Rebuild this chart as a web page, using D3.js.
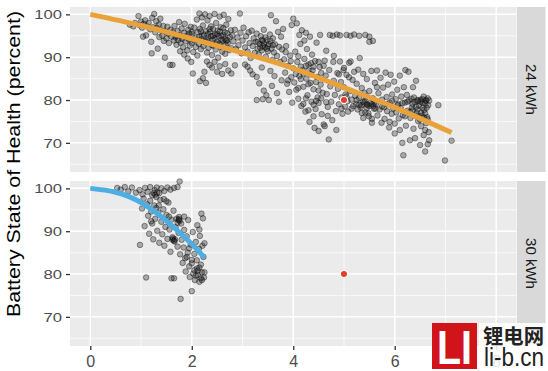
<!DOCTYPE html>
<html>
<head>
<meta charset="utf-8">
<script src="https://cdn.jsdelivr.net/npm/d3@7/dist/d3.min.js"></script>
<style>
body { margin: 0; background: #fff; }
svg { display: block; font-family: "Liberation Sans", Arial, sans-serif; }
</style>
</head>
<body>
<div id="chart"></div>
<script>
'use strict';

// facets, ticks
var facets = ['24 kWh', '30 kWh'];
var xTicks = [0, 2, 4, 6, 8];
var xMinor = [1, 3, 5, 7];
var yTicks = [70, 80, 90, 100];
var yMinor = [65, 75, 85, 95];
var yTitle = 'Battery State of Health (percent)';

// highlighted car (age in years, SoH)
var marker = [5, 80];

// fitted curves
var fit24Age = [0, 1, 2, 3, 4, 5, 6, 7.12];
var fit24Soh = [100, 97.4, 94.3, 91.0, 87.4, 82.9, 78.3, 72.4];
var fit30Age = [0, 0.5, 1, 1.5, 2, 2.25];
var fit30Soh = [100, 99.1, 96.7, 92.4, 87.0, 83.8];

var points24 = [
 [0.78,97.6],[0.85,97.2],[0.88,98.0],[0.95,99.6],[0.97,97.5],[1.0,98.3],[1.02,96.9],[1.05,97.8],[1.08,98.6],[1.1,95.1],
 [1.12,97.2],[1.15,98.0],[1.18,96.5],[1.2,93.6],[1.22,99.2],[1.24,97.0],[1.26,100.1],[1.28,95.8],[1.3,98.4],[1.31,96.9],
 [1.33,92.0],[1.35,97.6],[1.36,94.7],[1.38,99.0],[1.4,96.2],[1.42,95.0],[1.44,97.3],[1.45,93.8],[1.47,89.9],[1.48,96.0],
 [1.5,94.4],[1.52,97.1],[1.54,95.5],[1.55,93.3],[1.57,88.2],[1.58,96.4],[1.6,94.8],[1.62,88.2],[1.21,90.9],[1.04,94.8],
 [1.63,95.9],[1.65,93.9],[1.66,97.3],[1.68,94.6],[1.7,92.9],[1.72,96.1],[1.73,94.0],[1.75,98.2],[1.76,95.2],[1.78,93.4],
 [1.8,96.7],[1.81,94.3],[1.83,92.3],[1.85,95.7],[1.86,97.8],[1.88,93.7],[1.9,95.0],[1.91,91.6],[1.93,96.4],[1.95,94.1],
 [1.96,92.7],[1.98,97.1],[2.0,93.3],[2.01,95.4],[2.03,91.2],[2.05,96.9],[2.06,94.5],[2.08,92.4],[2.1,98.8],[2.11,90.4],
 [2.12,95.8],[2.14,93.1],[2.15,100.2],[2.16,96.6],[2.18,91.9],[2.19,94.2],[2.2,99.3],[1.92,89.7],[1.99,88.9],[2.02,86.2],
 [2.16,84.4],[2.22,85.1],[2.28,84.0],[2.25,86.6],[1.85,90.6],[1.77,91.4],
 [2.22,97.4],[2.23,92.6],[2.24,95.3],[2.26,100.0],[2.27,93.8],[2.28,96.1],[2.3,91.1],[2.31,98.6],[2.32,94.6],[2.33,92.2],
 [2.35,99.6],[2.36,95.9],[2.37,93.2],[2.38,97.2],[2.4,90.5],[2.41,94.1],[2.42,96.6],[2.43,92.7],[2.45,100.1],[2.46,95.3],
 [2.47,91.8],[2.48,98.0],[2.5,93.6],[2.51,96.2],[2.52,89.9],[2.53,94.9],[2.55,99.5],[2.56,92.4],[2.57,97.0],[2.58,95.0],
 [2.6,91.3],[2.61,93.8],[2.62,96.8],[2.63,99.9],[2.65,94.3],[2.66,90.8],[2.67,92.9],[2.68,97.6],[2.7,95.6],[2.71,93.3],
 [2.72,98.9],[2.74,91.7],[2.75,94.7],[2.77,96.3],[2.78,92.1],[2.8,95.1],[2.4,87.6],[2.45,88.9],[2.5,86.6],[2.55,87.9],
 [2.6,86.1],[2.66,88.4],[2.72,86.9],[2.78,86.2],[2.85,88.1],[2.3,89.0],[2.35,88.2],
 [1.9,94.6],[2.0,95.9],[2.1,94.0],[2.2,95.0],[2.3,94.0],[2.35,96.6],[2.45,94.4],[2.55,93.2],[2.62,95.2],[2.7,94.0],
 [2.5,95.4],[2.4,92.8],
 [1.7,95.0],[1.8,94.9],[1.95,95.5],[2.05,93.9],[2.15,94.8],[2.25,93.5],[2.32,95.4],[2.42,95.0],[2.48,93.0],[2.58,94.0],
 [2.65,95.8],[2.68,93.9],[2.55,96.0],[2.38,94.9],[2.18,96.0],
 [2.82,93.7],[2.85,96.4],[2.87,91.9],[2.9,94.6],[2.92,92.8],[2.95,100.2],[2.96,95.7],[2.98,90.9],[3.0,93.9],[3.02,96.9],
 [3.05,92.3],[3.07,94.9],[3.1,91.3],[3.12,95.8],[3.14,93.3],[3.16,89.8],[3.18,96.2],[3.2,92.6],[3.22,94.4],[3.24,91.0],
 [3.26,93.6],[3.28,95.5],[3.3,92.0],[3.32,90.6],[3.34,93.1],[3.36,94.9],[3.38,91.6],[3.4,93.8],[3.42,96.4],[3.44,92.3],
 [3.46,90.1],[3.48,94.0],[3.5,91.4],[3.52,93.1],[3.54,95.3],[3.56,99.8],[3.57,92.0],[3.59,89.4],[3.6,94.4],[3.62,91.1],
 [3.64,93.0],[3.66,98.4],[3.68,90.3],[3.7,95.9],[3.72,92.4],[3.74,88.9],[3.76,94.8],[3.78,91.8],[3.8,96.6],
 [3.3,93.6],[3.4,92.6],[3.45,94.6],[3.5,92.6],[3.6,92.8],[3.35,92.2],[3.42,93.2],[3.55,93.8],[3.48,92.0],[3.38,94.0],
 [3.05,88.3],[3.15,86.9],[3.2,86.0],[3.28,85.4],[3.33,83.9],[3.38,87.6],[3.42,82.2],[3.47,81.1],[3.52,80.0],[3.4,80.2],
 [3.28,80.0],[3.58,83.3],[3.63,85.6],[3.68,81.6],[3.72,79.6],[3.77,84.6],[3.1,87.8],[3.55,86.8],
 [3.82,89.5],[3.84,86.4],[3.86,92.6],[3.88,83.8],[3.9,88.0],[3.92,81.9],[3.94,90.4],[3.96,85.3],[3.97,97.5],[3.98,79.4],
 [4.0,99.0],[4.0,87.4],[4.02,84.1],[4.04,91.3],[4.06,82.4],[4.07,97.9],[4.08,88.9],[4.1,80.3],[4.12,85.6],[4.14,93.1],
 [4.16,78.6],[4.17,96.3],[4.18,87.0],[4.2,83.1],[4.22,89.6],[4.24,77.3],[4.25,95.7],[4.26,85.0],[4.28,81.1],[4.3,88.3],
 [4.32,74.9],[4.33,94.8],[4.34,84.0],[4.36,79.6],[4.38,86.9],[4.4,82.5],[4.42,73.5],[4.43,89.1],[4.44,77.9],[4.46,93.4],
 [4.47,85.4],[4.48,80.6],[4.5,72.8],[4.52,87.7],[4.53,95.2],[4.54,83.6],[4.56,76.7],[4.58,81.7],[4.6,74.3],
 [3.85,91.2],[3.9,84.6],[3.95,89.1],[4.05,86.1],[4.1,90.2],[4.15,84.9],[4.2,86.2],[4.25,80.4],[4.3,83.7],[4.35,88.6],
 [4.4,78.9],[4.45,84.2],[4.5,79.3],[4.55,86.3],[4.1,82.8],[4.2,79.1],[4.3,77.6],[4.4,76.2],[4.5,82.2],[4.27,91.9],
 [4.37,90.6],[4.12,95.2],[4.22,93.9],
 [4.3,86.9],[4.4,87.8],[4.5,88.9],[4.6,88.0],[4.45,79.8],[4.55,80.4],[4.65,79.5],[4.15,87.8],[4.25,88.0],[4.35,86.0],
 [4.72,95.2],[4.78,95.0],[4.86,95.3],[4.92,95.1],[5.05,95.2],[5.13,95.0],[5.2,95.3],[5.3,95.0],[5.42,95.2],[5.5,94.8],
 [5.57,93.8],[5.5,93.6],
 [4.62,89.2],[4.64,85.7],[4.66,81.4],[4.68,78.4],[4.7,70.8],[4.71,87.0],[4.73,83.2],[4.75,79.6],[4.77,75.3],[4.79,88.9],
 [4.8,84.5],[4.82,81.2],[4.84,77.4],[4.85,73.0],[4.87,86.3],[4.88,82.6],[4.9,79.0],[4.92,89.0],[4.94,84.2],[4.95,80.6],
 [4.97,76.8],[4.99,87.0],[5.0,83.0],[5.02,78.5],[5.03,81.3],[5.05,85.9],[5.07,79.7],[5.08,77.3],[5.1,88.7],[5.12,82.1],
 [5.13,89.0],[5.15,80.1],[5.17,84.7],[5.18,78.6],[5.2,86.6],[5.22,81.0],[5.24,79.1],[5.25,83.8],[5.27,77.8],[5.28,87.1],
 [5.3,80.5],[5.31,89.8],[5.33,78.3],[5.35,82.8],[5.37,79.6],[5.38,86.1],[5.4,81.7],[5.42,77.1],[5.44,80.8],[5.45,84.9],
 [5.47,78.8],[5.49,76.2],[5.5,82.1],[5.52,79.3],[5.54,86.8],[5.55,75.6],[5.57,80.4],[5.59,78.0],
 [4.65,91.5],[4.8,90.3],[4.9,86.0],[5.0,87.5],[5.1,85.3],[4.95,78.0],[5.05,80.8],[5.15,78.0],[5.25,80.0],[5.35,77.0],
 [5.45,79.0],[5.55,74.7],[5.48,76.9],[5.38,75.8],[4.62,73.9],[4.68,76.3],
 [5.35,78.8],[5.4,79.5],[5.5,78.6],[5.6,79.4],[5.62,78.0],[5.3,78.9],[5.45,78.2],[5.55,79.0],[5.42,79.9],[5.58,78.6],
 [5.61,84.0],[5.63,79.1],[5.65,86.9],[5.66,76.4],[5.68,81.6],[5.7,77.8],[5.72,85.2],[5.74,74.7],[5.75,80.1],[5.77,82.9],
 [5.79,78.3],[5.8,75.6],[5.82,86.4],[5.84,80.7],[5.85,77.4],[5.87,83.6],[5.89,73.6],[5.9,79.4],[5.92,85.9],[5.94,76.8],
 [5.95,81.3],[5.97,78.0],[5.99,84.3],[6.0,74.5],[6.02,80.2],[6.03,77.1],[6.05,82.4],[6.07,79.0],[6.08,75.7],[6.1,85.7],
 [6.12,78.1],[6.13,80.8],[6.15,70.0],[6.16,76.5],[6.17,67.1],[6.18,83.0],[6.2,79.4],[6.21,87.0],[6.22,74.0],[6.24,81.2],
 [6.25,77.5],[6.27,86.6],[6.28,79.9],[6.3,70.6],[6.31,75.8],[6.33,80.3],[6.34,78.3],[6.36,83.0],[6.37,73.3],[6.39,79.6],
 [6.4,71.1],[6.42,84.5],[6.43,77.0],[6.45,80.0],[6.46,75.1],[6.48,78.7],[6.5,69.5],[6.51,80.1],[6.52,73.9],[6.54,76.4],
 [6.55,79.4],[6.57,71.8],[6.58,77.7],[6.6,68.0],[6.61,79.8],[6.62,74.6],[6.64,76.0],[6.65,69.7],[6.66,78.8],[6.67,72.5],
 [6.68,70.6],[6.86,78.8],[6.99,65.9],[7.12,70.5],
 [5.65,83.0],[5.75,78.5],[5.85,79.0],[5.95,79.8],[6.05,78.8],[6.15,79.3],[6.25,79.6],[6.35,79.1],[6.45,79.8],[6.55,78.2],
 [6.62,80.0],[6.2,76.2],[6.3,77.2],[6.4,76.4],[6.5,75.4],[6.6,73.0],[6.1,73.0],[6.0,72.2],[5.9,74.9],
 [6.5,79.6],[6.55,80.2],[6.6,79.2],[6.65,80.4],[6.68,79.9],[6.45,77.8],[6.6,76.9],[6.65,75.5],
 [6.35,77.6],[6.42,78.4],[6.52,77.0],[6.58,75.8],[6.63,78.2],[6.48,76.2],[6.38,80.6],[6.57,80.8]
];

var points30 = [
 [0.53,100.1],[0.6,99.7],[0.68,100.3],[0.75,99.3],[0.82,100.2],[0.9,99.0],[0.97,99.6],[1.03,98.6],[1.08,100.1],[1.13,99.2],
 [1.18,100.3],[1.22,98.4],[1.27,99.6],[1.31,100.2],[1.36,98.9],[1.4,100.0],[1.46,99.4],[1.52,100.2],[1.58,99.7],[1.65,100.1],
 [1.72,100.3],[1.76,101.6],
 [0.98,86.8],[1.02,95.3],[1.05,97.6],[1.07,91.2],[1.1,79.2],[1.12,96.3],[1.14,93.6],[1.16,89.4],[1.18,97.1],[1.2,94.6],
 [1.22,91.8],[1.24,88.1],[1.26,96.0],[1.28,92.9],[1.3,98.0],[1.32,90.1],[1.34,94.4],[1.36,87.3],[1.38,97.3],[1.4,92.2],
 [1.42,89.3],[1.44,95.1],[1.46,86.6],[1.48,91.0],[1.5,93.8],[1.52,88.2],[1.54,96.7],[1.56,90.4],[1.58,85.2],[1.6,92.7],
 [1.6,79.0],[1.62,88.0],[1.64,94.8],[1.65,79.0],[1.66,87.6],[1.68,90.9],[1.7,92.9],[1.72,86.4],[1.74,89.6],[1.75,93.3],
 [1.77,84.6],[1.78,74.2],[1.79,91.8],[1.8,88.0],[1.82,82.6],[1.84,86.2],[1.85,90.3],[1.87,83.7],[1.88,80.6],[1.9,88.8],
 [1.92,85.0],[1.93,92.6],[1.95,81.8],[1.96,79.3],[1.98,86.9],[2.0,76.0],[2.0,83.3],[2.02,89.8],[2.03,80.1],[2.05,84.7],
 [2.06,78.6],[2.08,87.5],[2.1,81.3],[2.11,91.4],[2.12,79.8],[2.14,85.9],[2.15,78.2],[2.16,88.9],[2.18,82.2],[2.19,94.1],
 [2.2,80.4],[2.21,86.6],[2.22,93.0],[2.23,84.0],[2.24,79.2],[2.25,87.2],[2.25,80.4],
 [1.63,88.3],[1.67,88.1],[1.65,87.8],[1.74,92.6],[1.76,92.4],[1.75,92.8],[1.45,97.5],[1.5,97.0],[1.35,96.0],[1.25,98.9],
 [1.9,84.0],[2.0,82.5],[2.1,83.2],[1.95,86.0],[2.05,80.9],[2.15,81.5],[1.55,93.4],[1.85,93.4],[2.15,90.4],[1.2,92.3],
 [1.3,95.4],[1.28,98.5],[1.32,99.0],[2.08,79.6],[2.18,79.0],[2.12,80.8],[2.2,78.6],[1.62,88.6],[1.72,92.0]
];

var W = 548, H = 371;
var panelTop = [7, 181];
var panelH = 165;
var left = 70, right = 516.5;

var x = d3.scaleLinear().domain([-0.4, 8.4]).range([left, right]);

var svg = d3.select('#chart').append('svg')
	.attr('width', W)
	.attr('height', H);

var facetData = [
	{label: facets[0], pts: points24, fitX: fit24Age, fitY: fit24Soh, color: '#E9A23A'},
	{label: facets[1], pts: points30, fitX: fit30Age, fitY: fit30Soh, color: '#4DAEE3'}
];

facetData.forEach(function(f, i) {
	var top = panelTop[i];
	var y = d3.scaleLinear().domain([63.2, 101.72]).range([top + panelH, top]);
	var g = svg.append('g');

	// panel background
	g.append('rect')
		.attr('x', left).attr('y', top)
		.attr('width', right - left).attr('height', panelH)
		.attr('fill', '#EBEBEB');

	// minor grid
	g.selectAll('.ymin').data(yMinor).enter().append('line')
		.attr('x1', left).attr('x2', right)
		.attr('y1', y).attr('y2', y)
		.attr('stroke', '#fff').attr('stroke-width', 0.7);
	g.selectAll('.xmin').data(xMinor).enter().append('line')
		.attr('x1', x).attr('x2', x)
		.attr('y1', top).attr('y2', top + panelH)
		.attr('stroke', '#fff').attr('stroke-width', 0.7);
	// major grid
	g.selectAll('.ymaj').data(yTicks).enter().append('line')
		.attr('x1', left).attr('x2', right)
		.attr('y1', y).attr('y2', y)
		.attr('stroke', '#fff').attr('stroke-width', 1.5);
	g.selectAll('.xmaj').data(xTicks).enter().append('line')
		.attr('x1', x).attr('x2', x)
		.attr('y1', top).attr('y2', top + panelH)
		.attr('stroke', '#fff').attr('stroke-width', 1.5);

	// observations
	g.append('g').selectAll('circle').data(f.pts).enter().append('circle')
		.attr('cx', function(d) { return x(d[0]); })
		.attr('cy', function(d) { return y(d[1]); })
		.attr('r', 2.8)
		.attr('fill', '#222').attr('fill-opacity', 0.34)
		.attr('stroke', '#000').attr('stroke-opacity', 0.48)
		.attr('stroke-width', 0.8);

	// fitted curve
	var line = d3.line()
		.x(function(d, j) { return x(f.fitX[j]); })
		.y(function(d) { return y(d); })
		.curve(d3.curveNatural);
	g.append('path')
		.attr('d', line(f.fitY))
		.attr('fill', 'none')
		.attr('stroke', f.color)
		.attr('stroke-width', 5)
		.attr('stroke-linecap', 'butt');

	// highlighted car
	g.append('circle')
		.attr('cx', x(marker[0])).attr('cy', y(marker[1]))
		.attr('r', 3.6)
		.attr('fill', '#E4402C')
		.attr('stroke', '#fff').attr('stroke-width', 1.1);

	// y axis
	var yAxis = d3.axisLeft(y).tickValues(yTicks).tickSize(4).tickPadding(2.3);
	var ya = g.append('g')
		.attr('transform', 'translate(' + left + ',0)')
		.call(yAxis);
	ya.select('.domain').remove();
	ya.selectAll('line').attr('stroke', '#333').attr('stroke-width', 1.3);
	ya.selectAll('text')
		.attr('fill', '#4D4D4D')
		.style('font-size', '13px')
		.style('font-family', '"Liberation Sans", Arial, sans-serif')
		.attr('transform', 'scale(1.28,1)');

	// strip
	g.append('rect')
		.attr('x', 517).attr('y', top)
		.attr('width', 28.5).attr('height', panelH)
		.attr('fill', '#D9D9D9');
	g.append('text')
		.attr('transform', 'translate(531,' + (top + panelH / 2) + ') rotate(90)')
		.attr('text-anchor', 'middle')
		.attr('dy', '0.35em')
		.attr('fill', '#1A1A1A')
		.style('font-size', '15px')
		.text(f.label);

	// x axis only under the last panel
	if (i === facetData.length - 1) {
		var xAxis = d3.axisBottom(x).tickValues(xTicks).tickSize(4).tickPadding(6);
		var xa = g.append('g')
			.attr('transform', 'translate(0,' + (top + panelH) + ')')
			.call(xAxis);
		xa.select('.domain').remove();
		xa.selectAll('line').attr('stroke', '#333').attr('stroke-width', 1.3);
		xa.selectAll('text')
			.attr('fill', '#4D4D4D')
			.style('font-size', '16px')
			.style('font-family', '"Liberation Sans", Arial, sans-serif');
	}
});

// y-axis title
svg.append('text')
	.attr('transform', 'translate(20,164) rotate(-90)')
	.attr('text-anchor', 'middle')
	.attr('fill', '#000')
	.attr('textLength', 306)
	.attr('lengthAdjust', 'spacingAndGlyphs')
	.style('font-size', '19px')
	.text(yTitle);

// watermark, laid over the corner of the chart
var wm = svg.append('g');
wm.append('rect')
	.attr('x', 479).attr('y', 323)
	.attr('width', 69).attr('height', 48)
	.attr('fill', '#fff').attr('fill-opacity', 0.85);
wm.append('rect')
	.attr('x', 432).attr('y', 323)
	.attr('width', 45).attr('height', 46)
	.attr('fill', '#D0141A');
wm.append('text')
	.attr('x', 437).attr('y', 364)
	.attr('fill', '#fff')
	.attr('textLength', 35)
	.attr('lengthAdjust', 'spacingAndGlyphs')
	.style('font-size', '48px')
	.style('font-weight', 'bold')
	.text('LI');
wm.append('text')
	.attr('x', 483).attr('y', 344)
	.attr('fill', '#222')
	.attr('textLength', 61)
	.attr('lengthAdjust', 'spacingAndGlyphs')
	.style('font-size', '20px')
	.style('font-family', '"Noto Sans CJK SC", sans-serif')
	.style('font-weight', 'bold')
	.text('锂电网');
wm.append('text')
	.attr('x', 484).attr('y', 366)
	.attr('fill', '#222')
	.attr('textLength', 60)
	.attr('lengthAdjust', 'spacingAndGlyphs')
	.style('font-size', '25px')
	.text('li-b.cn');
</script>
</body>
</html>
